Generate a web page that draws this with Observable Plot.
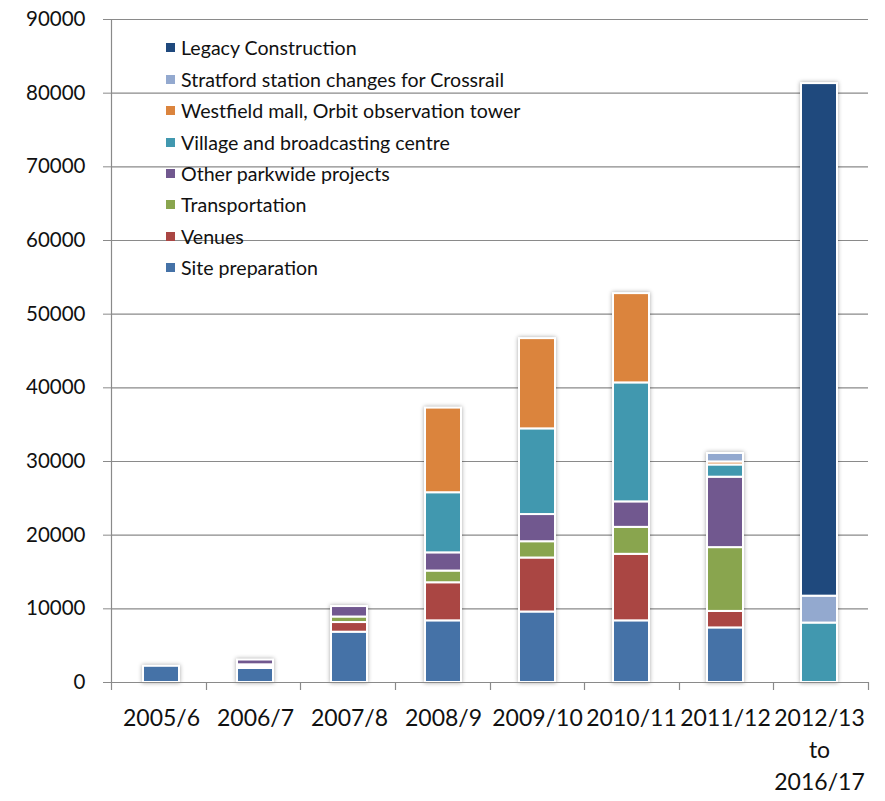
<!DOCTYPE html>
<html>
<head>
<meta charset="utf-8">
<script src="https://cdn.jsdelivr.net/npm/d3@7"></script>
<script src="https://cdn.jsdelivr.net/npm/@observablehq/plot@0.6"></script>
<style>
  body { margin: 0; background: #fff; }
  #wrap { position: relative; width: 885px; height: 801px; font-family: Lato, "Open Sans", sans-serif; }
  #legend { position: absolute; left: 166px; top: 32px; }
  .row { display: flex; align-items: center; height: 31.45px; font-size: 19.6px; color: #111; white-space: nowrap; }
  .sw { width: 9px; height: 9px; margin-right: 6px; flex: none; }
</style>
</head>
<body>
<div id="wrap"><div id="legend"></div></div>
<script>
// Categories (x axis)
const categories = ["2005/6", "2006/7", "2007/8", "2008/9", "2009/10", "2010/11", "2011/12", "2012/13\nto\n2016/17"];

// Series in stacking order (bottom to top)
const series = [
  "Site preparation",
  "Venues",
  "Transportation",
  "Other parkwide projects",
  "Village and broadcasting centre",
  "Westfield mall, Orbit observation tower",
  "Stratford station changes for Crossrail",
  "Legacy Construction"
];
const colors = ["#4572A7", "#AA4643", "#89A54E", "#71588F", "#4198AF", "#DB843D", "#93A9CF", "#1F497D"];

// Values per series (one value per category)
const sitePreparation = [2200, 1900, 6830, 8370, 9570, 8370, 7410, 0];
const venues          = [0, 250, 1310, 5170, 7330, 9030, 2240, 0];
const transportation  = [0, 250, 750, 1590, 2210, 3660, 8660, 0];
const otherParkwide   = [0, 650, 1420, 2470, 3690, 3460, 9560, 0];
const village         = [0, 0, 0, 8160, 11630, 16150, 1660, 8070];
const westfield       = [0, 0, 0, 11490, 12250, 12120, 410, 0];
const stratford       = [0, 0, 0, 0, 0, 0, 1150, 3650];
const legacy          = [0, 0, 0, 0, 0, 0, 0, 69580];
const values = [sitePreparation, venues, transportation, otherParkwide, village, westfield, stratford, legacy];

const yTicks = [0, 10000, 20000, 30000, 40000, 50000, 60000, 70000, 80000, 90000];

const data = [];
series.forEach((s, si) => values[si].forEach((v, ci) => {
  if (v > 0) data.push({category: categories[ci], series: s, value: v});
}));

const axisColor = "#8a8a8a";

// left axis line + category boundary ticks, derived from plot dimensions
function axisFrame(index, scales, vals, dims) {
  const {width, height, marginLeft, marginRight, marginTop, marginBottom} = dims;
  const g = d3.create("svg:g").attr("stroke", axisColor).attr("stroke-width", 1.2).attr("fill", "none");
  const x0 = marginLeft, x1 = width - marginRight, yb = height - marginBottom;
  g.append("line").attr("x1", x0 + 0.5).attr("x2", x0 + 0.5).attr("y1", marginTop).attr("y2", yb);
  const n = categories.length, step = (x1 - x0) / n;
  for (let i = 0; i <= n; i++) {
    const x = Math.round(x0 + i * step) + 0.5;
    g.append("line").attr("x1", x).attr("x2", x).attr("y1", yb).attr("y2", yb + 8);
  }
  return g.node();
}

const plot = Plot.plot({
  width: 885,
  height: 801,
  marginLeft: 111,
  marginRight: 17,
  marginTop: 19,
  marginBottom: 119,
  style: {fontFamily: "Lato, 'Open Sans', sans-serif", color: "#111", background: "white", overflow: "visible"},
  x: {domain: categories, paddingInner: 0.62, paddingOuter: 0.31, label: null},
  y: {domain: [0, 90000], label: null},
  color: {domain: series, range: colors},
  marks: [
    Plot.gridY(yTicks, {stroke: axisColor, strokeOpacity: 1, strokeWidth: 1.1}),
    Plot.axisY(yTicks, {tickSize: 8, tickPadding: 18, stroke: axisColor, tickFormat: d3.format("d"), fontSize: 20.5, fill: "#111"}),
    Plot.axisX({tickSize: 0, tickPadding: 20, fontSize: 23, lineHeight: 1.41, fill: "#111"}),
    Plot.barY(data, {x: "category", y: "value", fill: "series", stroke: "white", strokeWidth: 2}),
    Plot.ruleY([0], {stroke: axisColor, strokeWidth: 1.2}),
    axisFrame
  ]
});

d3.select(plot).selectAll("g[aria-label='bar']").style("filter", "drop-shadow(0 0 2px rgba(0,0,0,0.35))");

const wrap = document.getElementById("wrap");
wrap.insertBefore(plot, wrap.firstChild);

// legend (top row = last series)
const legend = d3.select("#legend");
series.slice().reverse().forEach((s) => {
  const row = legend.append("div").attr("class", "row");
  row.append("div").attr("class", "sw").style("background", colors[series.indexOf(s)]);
  row.append("span").text(s);
});
</script>
</body>
</html>
